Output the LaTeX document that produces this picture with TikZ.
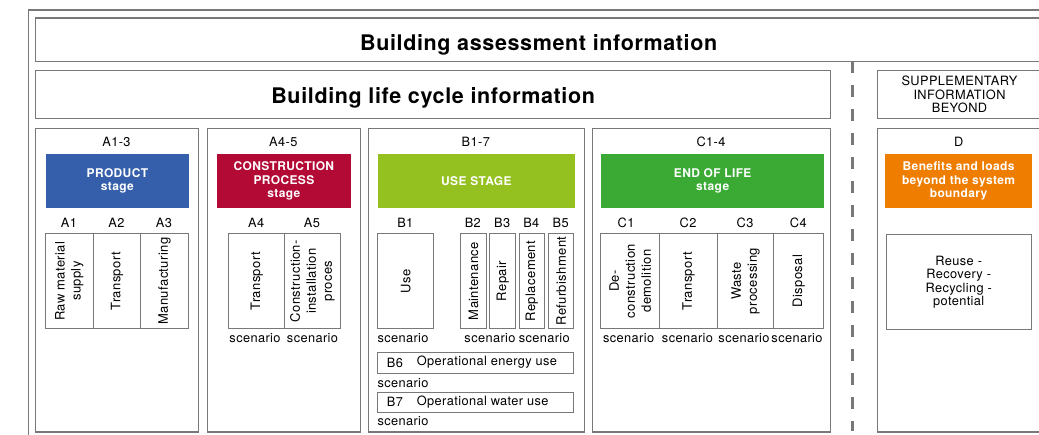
\documentclass[tikz,border=0pt]{standalone}
\usepackage{fontspec}
\setmainfont{TeX Gyre Heros}[LetterSpace=3]
\usepackage{tikz}

\definecolor{linegrey}{RGB}{120,120,120}
\definecolor{productblue}{RGB}{53,95,170}
\definecolor{processred}{RGB}{178,10,53}
\definecolor{uselime}{RGB}{148,193,31}
\definecolor{eolgreen}{RGB}{58,170,53}
\definecolor{benefitorange}{RGB}{238,125,0}

\newcommand{\lblfont}{\fontsize{12.8}{13.5}\selectfont}
\newcommand{\rotfont}{\fontsize{13}{16}\selectfont}
\newcommand{\headfont}{\fontsize{12}{13.5}\selectfont\bfseries}
\newcommand{\titlefont}{\fontsize{21.5}{24}\selectfont\bfseries}

\tikzstyle{box} = [rectangle, draw=linegrey, line width=1.35pt, anchor=north west, inner sep=0pt]
\tikzstyle{stage} = [box, minimum height=303.8pt]
\tikzstyle{module} = [box, line width=1.1pt, minimum height=95.7pt]
\tikzstyle{colour} = [rectangle, anchor=north west, minimum height=53.7pt, inner sep=0pt, text=white, font=\headfont, align=center]
\tikzstyle{title} = [box, font=\titlefont, text depth=0pt]
\tikzstyle{txt} = [inner sep=0pt, font=\lblfont, align=center]
\tikzstyle{vert} = [txt, rotate=90, font=\rotfont]
\tikzstyle{separator} = [draw=linegrey, line width=3pt, dash pattern=on 12pt off 12pt]

\begin{document}
\begin{tikzpicture}[x=1pt, y=-1pt]
        \useasboundingbox (0,0) rectangle (1039,435);
        \clip (0,0) rectangle (1039,435);

        % frames at the top
        \node (outer) [box] [minimum width=1030pt, minimum height=440pt] at (27.7,9.3) {};
        \node (assess) [title, minimum width=1006pt, minimum height=43.5pt, text height=21.9pt] at (35,17.5) {Building assessment information};
        \node (lifecycle) [title, minimum width=795pt, minimum height=48pt, text height=17.8pt] at (35,70) {Building life cycle information};
        \node (suppl) [box, minimum width=164.3pt, minimum height=48pt, font=\lblfont, align=center] at (876.7,70) {SUPPLEMENTARY\\INFORMATION\\BEYOND};

        % stage boxes
        \node (prod) [stage, minimum width=163pt] at (35,127.7) {};
        \node (constr) [stage, minimum width=153.3pt] at (206.7,127.7) {};
        \node (use) [stage, minimum width=216.3pt] at (367.7,127.7) {};
        \node (eol) [stage, minimum width=238pt] at (592,127.7) {};
        \node (beyond) [stage, minimum width=164.3pt] at (876.7,127.7) {};

        \node (prodcode) [txt] at (116.5,141.7) {A1-3};
        \node (constrcode) [txt] at (283.3,141.7) {A4-5};
        \node (usecode) [txt] at (475.8,141.7) {B1-7};
        \node (eolcode) [txt] at (711,141.7) {C1-4};
        \node (beyondcode) [txt] at (958.8,141.7) {D};

        \node (prodhead) [colour, fill=productblue, minimum width=143pt] at (45.7,154) {PRODUCT\\stage};
        \node (constrhead) [colour, fill=processred, minimum width=134pt] at (216.7,154) {CONSTRUCTION\\PROCESS\\stage};
        \node (usehead) [colour, fill=uselime, minimum width=197pt] at (377.7,154) {USE STAGE};
        \node (eolhead) [colour, fill=eolgreen, minimum width=223pt] at (601,154) {END OF LIFE\\stage};
        \node (beyondhead) [colour, fill=benefitorange, minimum width=146.7pt] at (885,154) {Benefits and loads\\beyond the system\\boundary};

        % product stage
        \node (a1) [module, minimum width=47.7pt] at (45,232.7) {};
        \node (a2) [module, minimum width=47.6pt] at (92.7,232.7) {};
        \node (a3) [module, minimum width=47.4pt] at (140.3,232.7) {};
        \node (a1code) [txt] at (68.9,222.7) {A1};
        \node (a2code) [txt] at (116.5,222.7) {A2};
        \node (a3code) [txt] at (164,222.7) {A3};
        \node (a1txt) [vert] at (a1.center) {Raw material\\supply};
        \node (a2txt) [vert] at (a2.center) {Transport};
        \node (a3txt) [vert] at (a3.center) {Manufacturing};

        % construction process stage
        \node (a4) [module, minimum width=55.7pt] at (228.3,232.7) {};
        \node (a5) [module, minimum width=56pt] at (284,232.7) {};
        \node (a4code) [txt] at (256.2,222.7) {A4};
        \node (a5code) [txt] at (312,222.7) {A5};
        \node (a4txt) [vert] at (a4.center) {Transport};
        \node (a5txt) [vert] at (a5.center) {Construction-\\installation\\proces};
        \node (a4scen) [txt] at (255,338.3) {scenario};
        \node (a5scen) [txt] at (312.5,338.3) {scenario};

        % use stage
        \node (b1) [module, minimum width=56pt] at (377.3,232.7) {};
        \node (b2) [module, minimum width=25.7pt] at (460,232.7) {};
        \node (b3) [module, minimum width=25.7pt] at (489.3,232.7) {};
        \node (b4) [module, minimum width=25.3pt] at (518.7,232.7) {};
        \node (b5) [module, minimum width=25.3pt] at (548,232.7) {};
        \node (b1code) [txt] at (405.3,222.7) {B1};
        \node (b2code) [txt] at (472.8,222.7) {B2};
        \node (b3code) [txt] at (502.2,222.7) {B3};
        \node (b4code) [txt] at (531.3,222.7) {B4};
        \node (b5code) [txt] at (560.7,222.7) {B5};
        \node (b1txt) [vert] at (b1.center) {Use};
        \node (b2txt) [vert] at (b2.center) {Maintenance};
        \node (b3txt) [vert] at (b3.center) {Repair};
        \node (b4txt) [vert] at (b4.center) {Replacement};
        \node (b5txt) [vert] at (b5.center) {Refurbishment};
        \node (b1scen) [txt, anchor=west] at (377.3,338.3) {scenario};
        \node (b23scen) [txt] at (490,338.3) {scenario};
        \node (b45scen) [txt] at (544.3,338.3) {scenario};

        \node (b6) [box, line width=1.1pt, minimum width=196pt, minimum height=20.4pt] at (377.3,352.3) {};
        \node (b6code) [txt, anchor=west] at (386.7,362.5) {B6};
        \node (b6txt) [txt, anchor=west] at (416.7,362.5) {Operational energy use};
        \node (b6scen) [txt, anchor=west] at (377.3,382.7) {scenario};
        \node (b7) [box, line width=1.1pt, minimum width=196pt, minimum height=20.3pt] at (377.3,391.7) {};
        \node (b7code) [txt, anchor=west] at (386.7,401.8) {B7};
        \node (b7txt) [txt, anchor=west] at (416.7,401.8) {Operational water use};
        \node (b7scen) [txt, anchor=west] at (377.3,420.7) {scenario};

        % end of life stage
        \node (c1) [module, minimum width=59.3pt] at (600,232.7) {};
        \node (c2) [module, minimum width=57.4pt] at (659.3,232.7) {};
        \node (c3) [module, minimum width=56.6pt] at (716.7,232.7) {};
        \node (c4) [module, minimum width=50pt] at (773.3,232.7) {};
        \node (c1code) [txt] at (626,222.7) {C1};
        \node (c2code) [txt] at (688,222.7) {C2};
        \node (c3code) [txt] at (745,222.7) {C3};
        \node (c4code) [txt] at (798.3,222.7) {C4};
        \node (c1txt) [vert] at (c1.center) {De-\\construction\\demolition};
        \node (c2txt) [vert] at (c2.center) {Transport};
        \node (c3txt) [vert] at (c3.center) {Waste\\processing};
        \node (c4txt) [vert] at (c4.center) {Disposal};
        \node (c1scen) [txt] at (628.7,338.3) {scenario};
        \node (c2scen) [txt] at (687.5,338.3) {scenario};
        \node (c3scen) [txt] at (744,338.3) {scenario};
        \node (c4scen) [txt] at (797,338.3) {scenario};

        % beyond the system boundary
        \node (d) [box, line width=1.1pt, minimum width=145pt, minimum height=94.4pt, font=\lblfont, align=center] at (885.7,234.3) {Reuse -\\Recovery -\\Recycling -\\potential};

        % boundary between life cycle and supplementary information
        \coordinate (septop) at (852.7,61);
        \coordinate (sepbot) at (852.7,431.5);
        \draw [separator] (septop) -- (sepbot);
\end{tikzpicture}
\end{document}
